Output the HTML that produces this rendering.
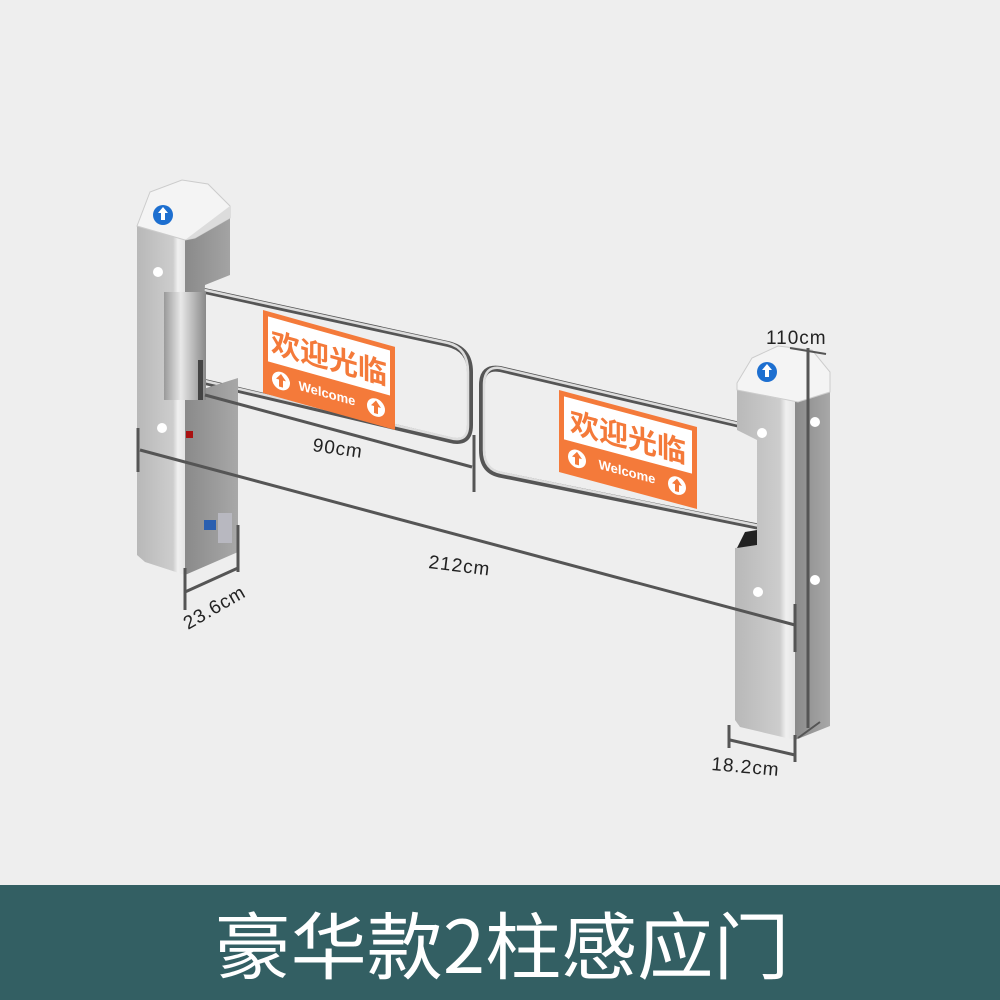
<!DOCTYPE html>
<html><head><meta charset="utf-8"><style>
html,body{margin:0;padding:0;width:1000px;height:1000px;overflow:hidden;background:#eeeeee}
svg{display:block}
</style></head><body>
<svg width="1000" height="1000" viewBox="0 0 1000 1000" xmlns="http://www.w3.org/2000/svg" font-family="'Liberation Sans','Noto Sans CJK SC',sans-serif">
<defs>
<linearGradient id="front" x1="0" y1="0" x2="1" y2="0"><stop offset="0" stop-color="#b8b8b8"/><stop offset="0.75" stop-color="#cdcdcd"/><stop offset="0.85" stop-color="#f0f0f0"/><stop offset="1" stop-color="#e4e4e4"/></linearGradient>
<linearGradient id="side" x1="0" y1="0" x2="1" y2="0"><stop offset="0" stop-color="#8a8a8a"/><stop offset="1" stop-color="#a8a8a8"/></linearGradient>
<linearGradient id="tube" x1="0" y1="0" x2="1" y2="0"><stop offset="0" stop-color="#999"/><stop offset="0.4" stop-color="#e8e8e8"/><stop offset="1" stop-color="#888"/></linearGradient>
</defs>
<rect width="1000" height="1000" fill="#eeeeee"/>

<g fill="none" stroke-linecap="round">
<path d="M200,290 L448,344 Q470,349 470,372 L470,425 Q470,445 450,440 L205,382" stroke="#555" stroke-width="6"/>
<path d="M200,289 L448,343 Q468,348 468,372 L468,425 Q468,443 450,438 L205,381" stroke="#ddd" stroke-width="2.5"/>
<path d="M740,425 L500,369 Q482,366 482,385 L482,450 Q482,472 502,475 L760,527" stroke="#555" stroke-width="6"/>
<path d="M740,424 L500,368 Q484,366 484,385 L484,450 Q484,470 502,473 L760,526" stroke="#ddd" stroke-width="2.5"/>
</g>

<g transform="translate(263,310) skewY(15.6)">
<rect x="0" y="0" width="132" height="83" fill="#f47a3a"/>
<rect x="5" y="5" width="122" height="45" fill="#fff"/>
<text x="66" y="40" text-anchor="middle" font-size="29" font-weight="bold" fill="#f47a3a" font-family="'Noto Sans CJK SC',sans-serif">欢迎光临</text>
<circle cx="18" cy="66" r="9" fill="#fff"/><path d="M18,59 l-5,6 h3 v7 h4 v-7 h3z" fill="#f47a3a"/>
<circle cx="113" cy="66" r="9" fill="#fff"/><path d="M113,59 l-5,6 h3 v7 h4 v-7 h3z" fill="#f47a3a"/>
<text x="64" y="70" text-anchor="middle" font-size="13" font-weight="bold" fill="#fff">Welcome</text>
</g>
<g transform="translate(559,390) skewY(15)">
<rect x="0" y="0" width="138" height="82" fill="#f47a3a"/>
<rect x="5" y="5" width="128" height="43" fill="#fff"/>
<text x="69" y="39" text-anchor="middle" font-size="29" font-weight="bold" fill="#f47a3a" font-family="'Noto Sans CJK SC',sans-serif">欢迎光临</text>
<circle cx="18" cy="64" r="9" fill="#fff"/><path d="M18,57 l-5,6 h3 v7 h4 v-7 h3z" fill="#f47a3a"/>
<circle cx="118" cy="64" r="9" fill="#fff"/><path d="M118,57 l-5,6 h3 v7 h4 v-7 h3z" fill="#f47a3a"/>
<text x="68" y="68" text-anchor="middle" font-size="13" font-weight="bold" fill="#fff">Welcome</text>
</g>

<!-- left post -->
<path d="M185,238 L230,218 L230,275 L205,285 L200,390 L238,378 L238,552 L185,575Z" fill="url(#side)"/>
<path d="M137,226 L185,240 L185,575 L145,562 L137,555Z" fill="url(#front)"/>
<rect x="164" y="292" width="42" height="108" fill="url(#tube)"/>
<rect x="198" y="360" width="5" height="40" fill="#444"/>
<path d="M137,226 L150,192 L182,180 L208,184 L230,206 L230,218 L195,238 L185,240Z" fill="#f4f4f4" stroke="#ccc"/>
<path d="M185,240 L195,238 L230,218 L230,206Z" fill="#dcdcdc"/>
<circle cx="163" cy="215" r="10" fill="#1d6fd0"/><path d="M163,207 l-5,6 h3 v7 h4 v-7 h3z" fill="#fff"/>
<circle cx="158" cy="272" r="5" fill="#fff"/><circle cx="162" cy="428" r="5" fill="#fff"/>
<rect x="186" y="431" width="7" height="7" fill="#a11"/>
<rect x="204" y="520" width="12" height="10" fill="#2a5fb0"/>
<rect x="218" y="513" width="14" height="30" fill="#b8b8c0"/>

<!-- right post -->
<path d="M795,402 L830,392 L830,726 L795,740Z" fill="url(#side)"/>
<path d="M737,390 L795,402 L795,740 L740,727 L735,720 L735,548 L757,545 L757,440 L737,430Z" fill="url(#front)"/>
<path d="M737,548 L757,545 L757,530 L745,532Z" fill="#222"/>
<path d="M737,383 L752,358 L778,346 L812,350 L830,372 L830,392 L798,402 L737,390Z" fill="#f4f4f4" stroke="#ccc"/>
<circle cx="767" cy="372" r="10" fill="#1d6fd0"/><path d="M767,364 l-5,6 h3 v7 h4 v-7 h3z" fill="#fff"/>
<circle cx="762" cy="433" r="5" fill="#fff"/><circle cx="815" cy="422" r="5" fill="#fff"/>
<circle cx="758" cy="592" r="5" fill="#fff"/><circle cx="815" cy="580" r="5" fill="#fff"/>

<g stroke="#555" stroke-width="3" fill="none">
<line x1="140" y1="450" x2="795" y2="625"/>
<line x1="138" y1="428" x2="138" y2="472"/>
<line x1="795" y1="604" x2="795" y2="652"/>
<line x1="205" y1="395" x2="472" y2="467"/>
<line x1="474" y1="435" x2="474" y2="492"/>
<line x1="185" y1="592" x2="238" y2="568"/>
<line x1="185" y1="568" x2="185" y2="610"/>
<line x1="238" y1="525" x2="238" y2="572"/>
<line x1="730" y1="740" x2="795" y2="755"/>
<line x1="729" y1="725" x2="729" y2="748"/>
<line x1="795" y1="735" x2="795" y2="762"/>
<line x1="808" y1="348" x2="808" y2="728"/>
<line x1="790" y1="348" x2="826" y2="354" stroke-width="2"/>
<line x1="798" y1="738" x2="820" y2="722" stroke-width="2"/>
</g>
<g fill="#222" font-size="19" letter-spacing="1">
<text x="312" y="451" transform="rotate(8 312 451)">90cm</text>
<text x="428" y="568" transform="rotate(7 428 568)">212cm</text>
<text x="188" y="630" transform="rotate(-30 188 630)">23.6cm</text>
<text x="711" y="770" transform="rotate(5 711 770)">18.2cm</text>
<text x="766" y="344">110cm</text>
</g>

<rect x="0" y="885" width="1000" height="115" fill="#335f63"/>
<text x="502" y="973" text-anchor="middle" font-size="73" fill="#fff" font-family="'Noto Sans CJK SC',sans-serif" textLength="575" lengthAdjust="spacingAndGlyphs">豪华款2柱感应门</text>
</svg>
</body></html>
